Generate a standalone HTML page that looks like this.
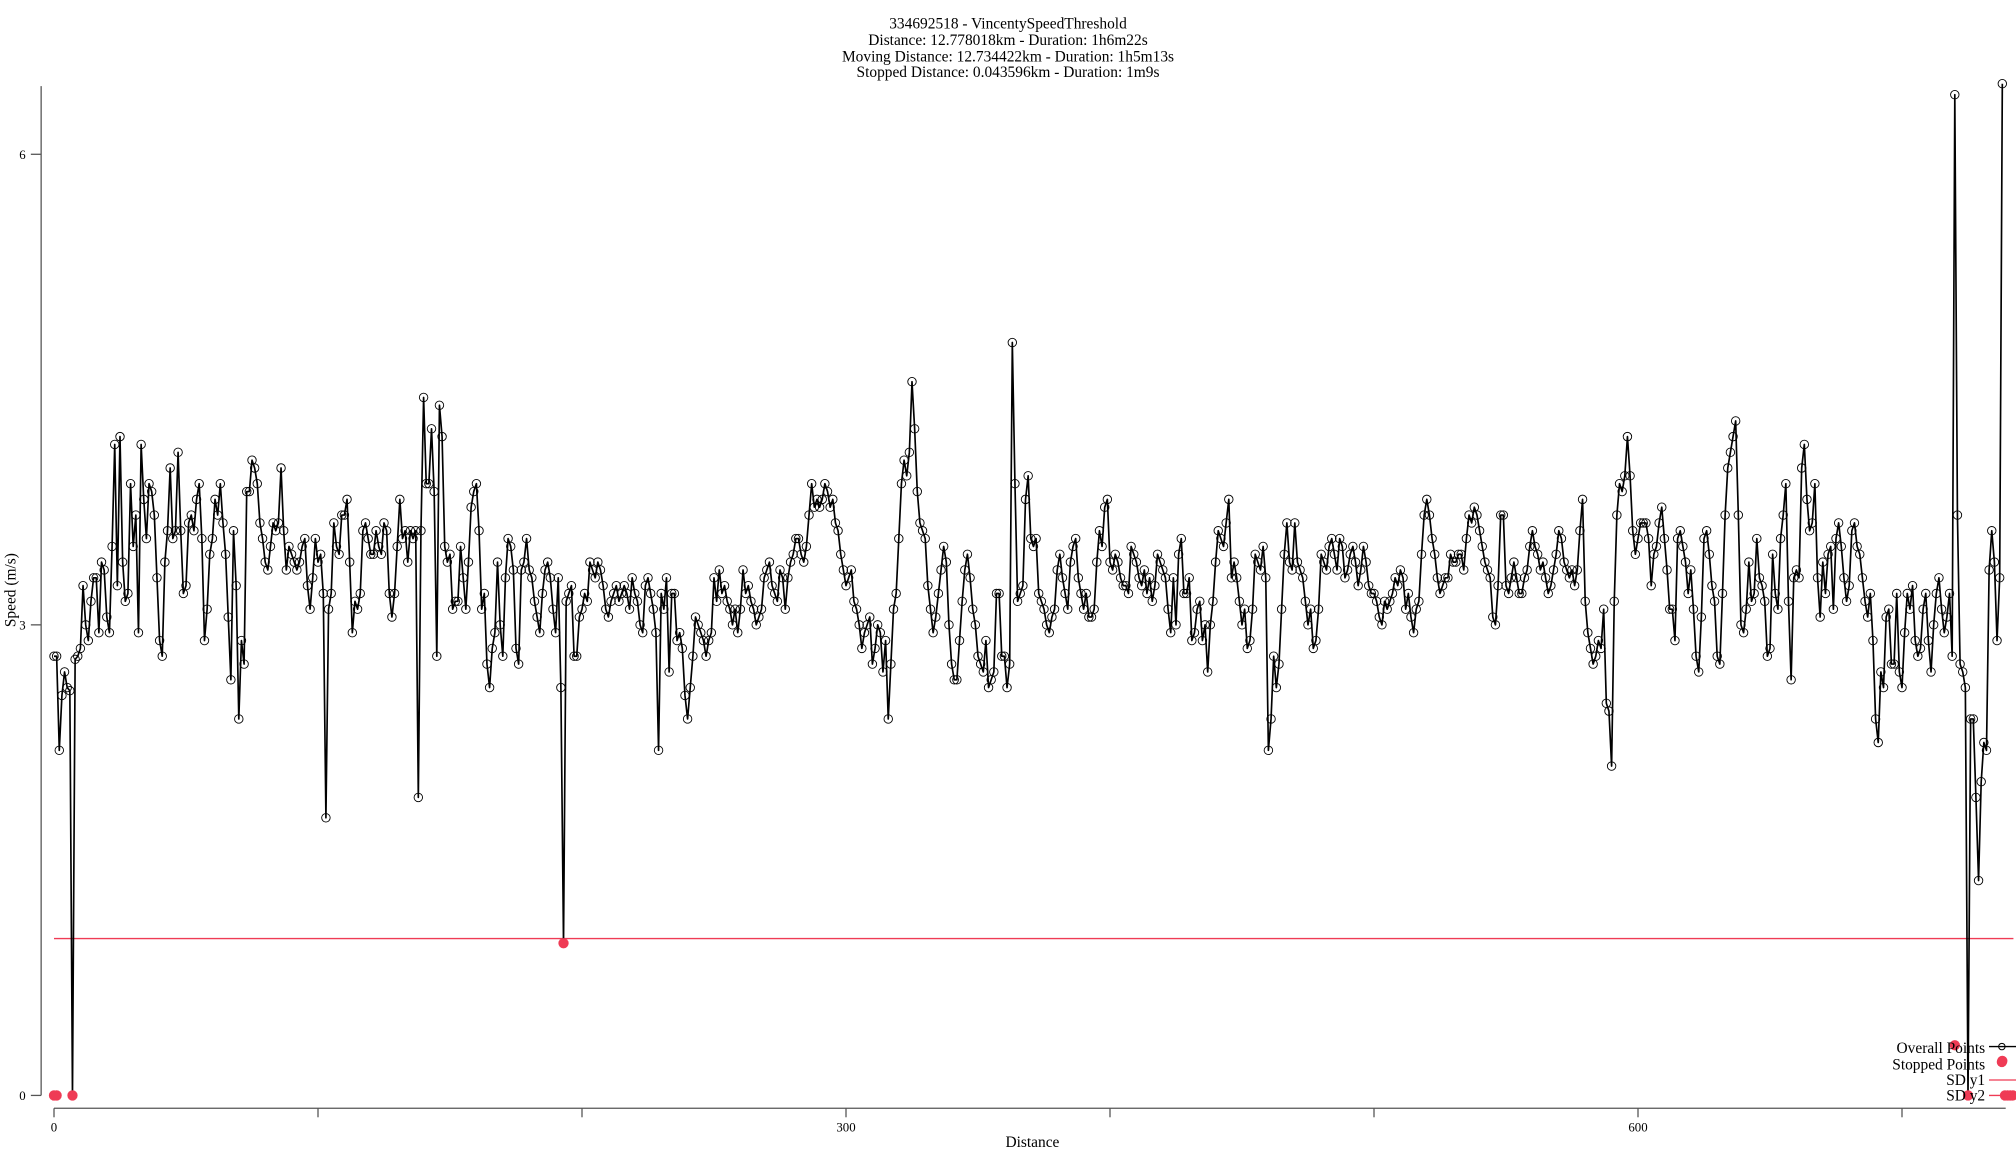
<!DOCTYPE html>
<html><head><meta charset="utf-8"><style>
html,body{margin:0;padding:0;background:#fff;}
svg{display:block;font-family:"Liberation Serif",serif;}
</style></head><body>
<svg id="chart" width="2016" height="1152" viewBox="0 0 1568 896" xmlns="http://www.w3.org/2000/svg">
<g font-size="12" text-anchor="middle" fill="#000">
<text x="784" y="22">334692518 - VincentySpeedThreshold</text>
<text x="784" y="35">Distance: 12.778018km - Duration: 1h6m22s</text>
<text x="784" y="48">Moving Distance: 12.734422km - Duration: 1h5m13s</text>
<text x="784" y="60">Stopped Distance: 0.043596km - Duration: 1m9s</text>
</g>
<g id="axes"></g>
<g id="marks"></g>
<text x="803" y="892" font-size="12" text-anchor="middle">Distance</text>
<text transform="translate(12,459) rotate(-90)" font-size="12" text-anchor="middle">Speed (m/s)</text>
<g font-size="12" text-anchor="end">
<g><text x="1544" y="819">Overall Points</text><line x1="1547" y1="814" x2="1568" y2="814" stroke="#000" stroke-width="1"/><circle cx="1557" cy="814" r="2.5" fill="none" stroke="#000" stroke-width="0.8"/></g>
<g><text x="1544" y="832">Stopped Points</text><circle cx="1557" cy="826" r="4" fill="#ef3b55"/></g>
<g><text x="1544" y="844">SD y1</text><line x1="1547" y1="840" x2="1568" y2="840" stroke="#ef3b55" stroke-width="1"/></g>
<g><text x="1544" y="856">SD y2</text><line x1="1547" y1="852" x2="1568" y2="852" stroke="#ef3b55" stroke-width="1"/></g>
</g>
</svg>
<script>
const speeds = [
2.8,2.8,2.2,2.55,2.7,2.6,2.58,0,2.78,2.8,
2.85,3.25,3.0,2.9,3.15,3.3,3.3,2.95,3.4,3.35,
3.05,2.95,3.5,4.15,3.25,4.2,3.4,3.15,3.2,3.9,
3.5,3.7,2.95,4.15,3.8,3.55,3.9,3.85,3.7,3.3,
2.9,2.8,3.4,3.6,4.0,3.55,3.6,4.1,3.6,3.2,
3.25,3.65,3.7,3.6,3.8,3.9,3.55,2.9,3.1,3.45,
3.55,3.8,3.7,3.9,3.65,3.45,3.05,2.65,3.6,3.25,
2.4,2.9,2.75,3.85,3.85,4.05,4.0,3.9,3.65,3.55,
3.4,3.35,3.5,3.65,3.6,3.65,4.0,3.6,3.35,3.5,
3.45,3.4,3.35,3.4,3.5,3.55,3.25,3.1,3.3,3.55,
3.4,3.45,3.2,1.77,3.1,3.2,3.65,3.5,3.45,3.7,
3.7,3.8,3.4,2.95,3.15,3.1,3.2,3.6,3.65,3.55,
3.45,3.45,3.6,3.5,3.45,3.65,3.6,3.2,3.05,3.2,
3.5,3.8,3.55,3.6,3.4,3.6,3.55,3.6,1.9,3.6,
4.45,3.9,3.9,4.25,3.85,2.8,4.4,4.2,3.5,3.4,
3.45,3.1,3.15,3.15,3.5,3.3,3.1,3.4,3.75,3.85,
3.9,3.6,3.1,3.2,2.75,2.6,2.85,2.95,3.4,3.0,
2.8,3.3,3.55,3.5,3.35,2.85,2.75,3.35,3.4,3.55,
3.35,3.3,3.15,3.05,2.95,3.2,3.35,3.4,3.3,3.1,
2.95,3.3,2.6,0.97,3.15,3.2,3.25,2.8,2.8,3.05,
3.1,3.2,3.15,3.4,3.35,3.3,3.4,3.35,3.25,3.1,
3.05,3.15,3.2,3.25,3.15,3.2,3.25,3.2,3.1,3.3,
3.2,3.15,3.0,2.95,3.25,3.3,3.2,3.1,2.95,2.2,
3.2,3.1,3.3,2.7,3.2,3.2,2.9,2.95,2.85,2.55,
2.4,2.6,2.8,3.05,3.0,2.95,2.9,2.8,2.9,2.95,
3.3,3.15,3.35,3.2,3.25,3.15,3.1,3.0,3.1,2.95,
3.1,3.35,3.2,3.25,3.15,3.1,3.0,3.05,3.1,3.3,
3.35,3.4,3.25,3.2,3.15,3.35,3.3,3.1,3.3,3.4,
3.45,3.55,3.55,3.45,3.4,3.5,3.7,3.9,3.75,3.8,
3.75,3.8,3.9,3.85,3.75,3.8,3.65,3.6,3.45,3.35,
3.25,3.3,3.35,3.15,3.1,3.0,2.85,2.95,3.0,3.05,
2.75,2.85,3.0,2.95,2.7,2.9,2.4,2.75,3.1,3.2,
3.55,3.9,4.05,3.95,4.1,4.55,4.25,3.85,3.65,3.6,
3.55,3.25,3.1,2.95,3.05,3.2,3.35,3.5,3.4,3.0,
2.75,2.65,2.65,2.9,3.15,3.35,3.45,3.3,3.1,3.0,
2.8,2.75,2.7,2.9,2.6,2.65,2.7,3.2,3.2,2.8,
2.8,2.6,2.75,4.8,3.9,3.15,3.2,3.25,3.8,3.95,
3.55,3.5,3.55,3.2,3.15,3.1,3.0,2.95,3.05,3.1,
3.35,3.45,3.3,3.2,3.1,3.4,3.5,3.55,3.3,3.2,
3.1,3.2,3.05,3.05,3.1,3.4,3.6,3.5,3.75,3.8,
3.4,3.35,3.45,3.4,3.3,3.25,3.25,3.2,3.5,3.45,
3.4,3.3,3.25,3.35,3.2,3.3,3.15,3.25,3.45,3.4,
3.35,3.3,3.1,2.95,3.3,3.0,3.45,3.55,3.2,3.2,
3.3,2.9,2.95,3.1,3.15,2.9,3.0,2.7,3.0,3.15,
3.4,3.6,3.55,3.5,3.65,3.8,3.3,3.4,3.3,3.15,
3.0,3.1,2.85,2.9,3.1,3.45,3.4,3.35,3.5,3.3,
2.2,2.4,2.8,2.6,2.75,3.1,3.45,3.65,3.4,3.35,
3.65,3.4,3.35,3.3,3.15,3.0,3.1,2.85,2.9,3.1,
3.45,3.4,3.35,3.5,3.55,3.45,3.35,3.55,3.5,3.3,
3.35,3.45,3.5,3.4,3.25,3.35,3.5,3.4,3.25,3.2,
3.2,3.15,3.05,3.0,3.15,3.1,3.15,3.2,3.3,3.25,
3.35,3.3,3.1,3.2,3.05,2.95,3.1,3.15,3.45,3.7,
3.8,3.7,3.55,3.45,3.3,3.2,3.25,3.3,3.3,3.45,
3.4,3.4,3.45,3.45,3.35,3.55,3.7,3.65,3.75,3.7,
3.6,3.5,3.4,3.35,3.3,3.05,3.0,3.25,3.7,3.7,
3.25,3.2,3.3,3.4,3.3,3.2,3.2,3.3,3.35,3.5,
3.6,3.5,3.45,3.35,3.4,3.3,3.2,3.25,3.35,3.45,
3.6,3.55,3.4,3.35,3.3,3.35,3.25,3.35,3.6,3.8,
3.15,2.95,2.85,2.75,2.8,2.9,2.85,3.1,2.5,2.45,
2.1,3.15,3.7,3.9,3.85,3.95,4.2,3.95,3.6,3.45,
3.55,3.65,3.65,3.65,3.55,3.25,3.45,3.5,3.65,3.75,
3.55,3.35,3.1,3.1,2.9,3.55,3.6,3.5,3.4,3.2,
3.35,3.1,2.8,2.7,3.05,3.55,3.6,3.45,3.25,3.15,
2.8,2.75,3.2,3.7,4.0,4.1,4.2,4.3,3.7,3.0,
2.95,3.1,3.4,3.15,3.2,3.55,3.3,3.25,3.15,2.8,
2.85,3.45,3.2,3.1,3.55,3.7,3.9,3.15,2.65,3.3,
3.35,3.3,4.0,4.15,3.8,3.6,3.65,3.9,3.3,3.05,
3.4,3.2,3.45,3.5,3.1,3.55,3.65,3.5,3.3,3.15,
3.25,3.6,3.65,3.5,3.45,3.3,3.15,3.05,3.2,2.9,
2.4,2.25,2.7,2.6,3.05,3.1,2.75,2.75,3.2,2.7,
2.6,2.95,3.2,3.1,3.25,2.9,2.8,2.85,3.1,3.2,
2.9,2.7,3.0,3.2,3.3,3.1,2.95,3.05,3.2,2.8,
6.38,3.7,2.75,2.7,2.6,0,2.4,2.4,1.9,1.37,
2.0,2.25,2.2,3.35,3.6,3.4,2.9,3.3,6.45
];
const stoppedX = [0,1,7,193,720,725,738,739,740,741,742];
const stoppedY = [0,0,0,0.97,0.32,0,0.22,0,0,0,0];
const thresholdY = 1.0;
const xTicks = [0,100,200,300,400,500,600,700];
const xTickLabels = ["0","","","300","","","600",""];
const yTicks = [0,3,6];
const yTickLabels = ["0","3","6"];

const NS = "http://www.w3.org/2000/svg";
const xs = v => 42 + v * (616/300);
const ys = v => 852 - v * 122;
function mk(tag, attrs, parent){ const e=document.createElementNS(NS,tag); for(const k in attrs) e.setAttribute(k,attrs[k]); parent.appendChild(e); return e; }
const axes = document.getElementById('axes');
const marks = document.getElementById('marks');

const yAxis = mk('line',{x1:32,y1:67,x2:32,y2:852,stroke:'#555','stroke-width':1},axes);


const xAxis = mk('line',{x1:42,y1:862,x2:1560,y2:862,stroke:'#555','stroke-width':1},axes);


yTicks.forEach((t,i)=>{
  const tk = mk('line',{x1:24,y1:ys(t),x2:32,y2:ys(t),stroke:'#555','stroke-width':1},axes);
  
  
  const tl = mk('text',{x:20,y:ys(t)+3.5,'font-size':10,'text-anchor':'end'},axes);
  tl.textContent = yTickLabels[i];
  
  
});
xTicks.forEach((t,i)=>{
  const tk = mk('line',{x1:xs(t),y1:862,x2:xs(t),y2:869,stroke:'#555','stroke-width':1},axes);
  
  
  if(xTickLabels[i]){
    const tl = mk('text',{x:xs(t),y:880,'font-size':10,'text-anchor':'middle'},axes);
    tl.textContent = xTickLabels[i];
    
    
  }
});
const th = mk('line',{x1:xs(0),y1:ys(thresholdY),x2:1566,y2:ys(thresholdY),stroke:'#ef3b55','stroke-width':1},marks);



const pts = speeds.map((v,i)=>xs(i).toFixed(2)+','+ys(v).toFixed(2)).join(' ');
const line = mk('polyline',{points:pts,fill:'none',stroke:'#000','stroke-width':1.3,'stroke-linejoin':'round'},marks);


const cg = mk('g',{fill:'none',stroke:'#000','stroke-width':0.7},marks);


speeds.forEach((v,i)=>{
  const c = mk('circle',{cx:xs(i),cy:ys(v),r:3.3},cg);
  
  
});
stoppedX.forEach((x,i)=>{
  const c = mk('circle',{cx:xs(x),cy:ys(stoppedY[i]),r:4,fill:'#ef3b55'},marks);
  
  
});
</script>
</body></html>
